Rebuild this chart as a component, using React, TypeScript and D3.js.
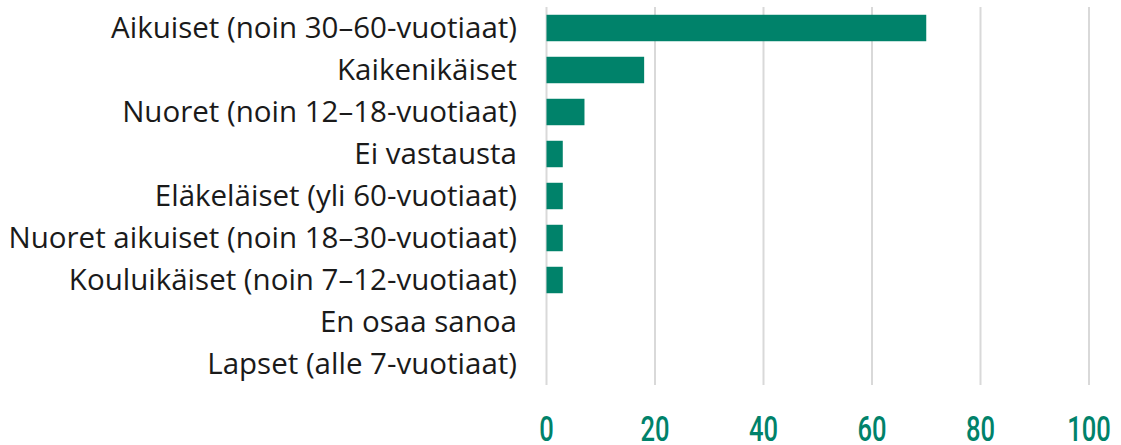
import React from "react";
import * as d3 from "d3";

const categories = [
  "Aikuiset (noin 30–60-vuotiaat)",
  "Kaikenikäiset",
  "Nuoret (noin 12–18-vuotiaat)",
  "Ei vastausta",
  "Eläkeläiset (yli 60-vuotiaat)",
  "Nuoret aikuiset (noin 18–30-vuotiaat)",
  "Kouluikäiset (noin 7–12-vuotiaat)",
  "En osaa sanoa",
  "Lapset (alle 7-vuotiaat)",
];
const values = [70, 18, 7, 3, 3, 3, 3, 0, 0];
const ticks = [0, 20, 40, 60, 80, 100];

const W = 1121;
const H = 445;
const GREEN = "#00826a";

export default function App() {
  const x = d3.scaleLinear().domain([0, 100]).range([546.5, 1089]);
  const y = d3
    .scaleBand<string>()
    .domain(categories)
    .range([7, 385])
    .paddingInner(0.37)
    .paddingOuter(0.185);
  return (
    <svg
      width={W}
      height={H}
      style={{ position: "absolute", left: 0, top: 0, background: "#fff" }}
    >
      {ticks.map((t) => (
        <line
          key={t}
          x1={x(t)}
          x2={x(t)}
          y1={7}
          y2={385}
          stroke="#d9d9d9"
          strokeWidth={2}
        />
      ))}
      {categories.map((c, i) => (
        <rect
          key={c}
          x={x(0)}
          y={y(c)}
          width={x(values[i]) - x(0)}
          height={y.bandwidth()}
          fill={GREEN}
        />
      ))}
      {categories.map((c) => (
        <text
          key={c}
          x={517}
          y={(y(c) as number) + y.bandwidth() / 2}
          dy="0.34em"
          textAnchor="end"
          fontFamily="'Open Sans', 'Noto Sans', sans-serif"
          fontSize={29.5}
          fill="#1a1a1a"
        >
          {c}
        </text>
      ))}
      {ticks.map((t) => (
        <text
          key={t}
          transform={`translate(${x(t)},440.5) scale(0.72,1)`}
          textAnchor="middle"
          fontFamily="Roboto, sans-serif"
          fontWeight={500}
          fontSize={35.5}
          fill={GREEN}
        >
          {t}
        </text>
      ))}
    </svg>
  );
}
